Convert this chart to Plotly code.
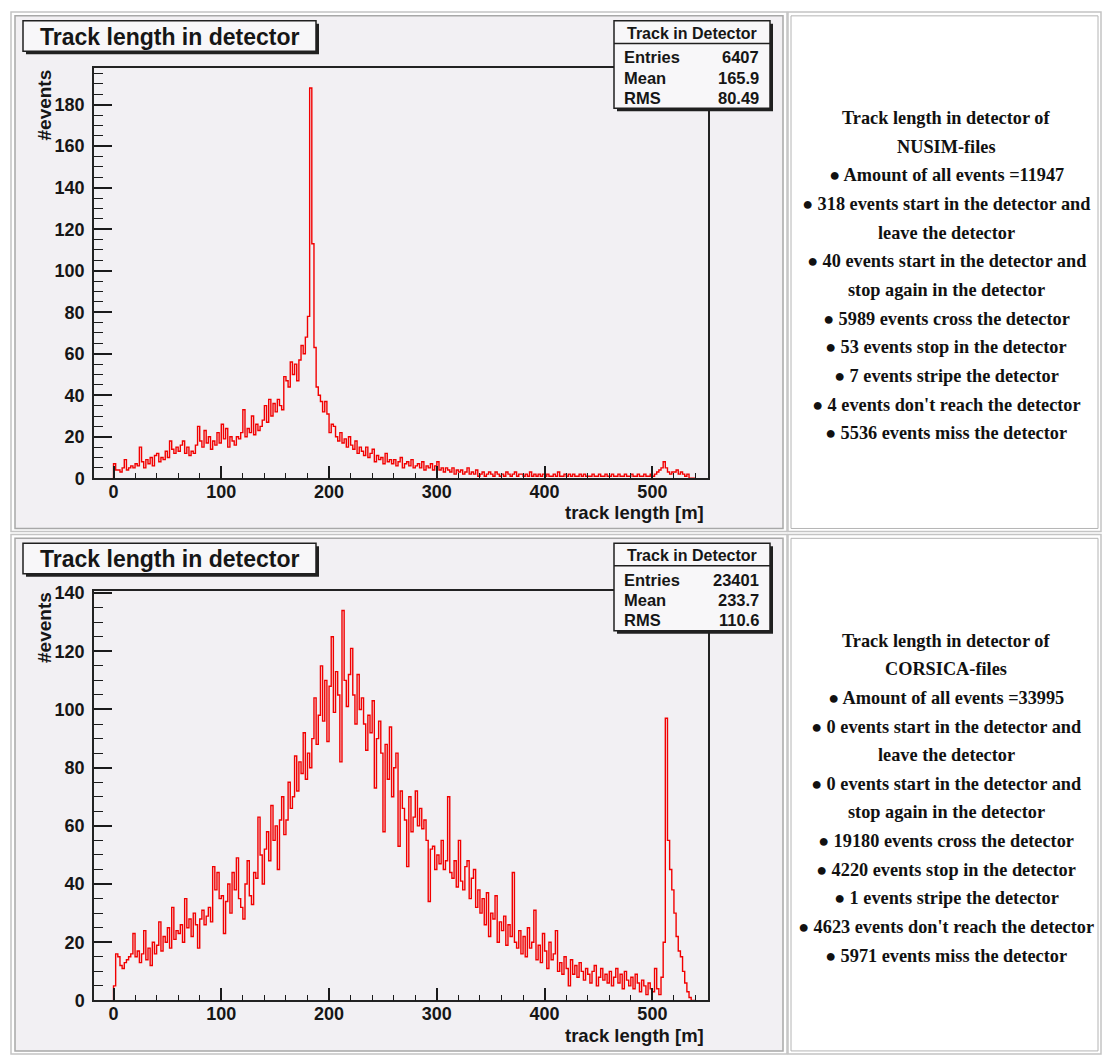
import plotly.graph_objects as go

# ---------------------------------------------------------------- data
BIN_WIDTH = 2  # metres per histogram bin, bins start at 0 m

# NUSIM: track length in detector (counts per bin, 0..540 m)
nusim_counts = [
    7, 4, 4, 3, 5, 9, 4, 5, 6, 5,            # 0-18
    7, 6, 15, 8, 5, 9, 7, 10, 6, 11,         # 20-38
    12, 8, 10, 9, 13, 10, 18, 14, 12, 15,    # 40-58
    13, 16, 18, 12, 15, 11, 13, 12, 16, 25,  # 60-78
    18, 15, 23, 17, 20, 14, 18, 16, 22, 17,  # 80-98
    26, 19, 24, 15, 20, 18, 16, 20, 19, 22,  # 100-118
    33, 20, 24, 22, 30, 21, 26, 23, 25, 28,  # 120-138
    35, 27, 38, 30, 36, 32, 38, 35, 33, 49,  # 140-158
    47, 44, 56, 50, 55, 47, 57, 64, 60, 68,  # 160-178
    78, 188, 113, 63, 44, 40, 37, 32, 37, 31,  # 180-198
    22, 26, 25, 20, 18, 22, 17, 19, 15, 20,  # 200-218
    16, 14, 18, 12, 15, 13, 11, 15, 10, 12,  # 220-238
    14, 8, 11, 9, 10, 7, 12, 8, 9, 7,        # 240-258
    9, 6, 8, 10, 5, 7, 8, 6, 9, 5,           # 260-278
    6, 7, 5, 8, 4, 6, 5, 7, 4, 6,            # 280-298
    8, 4, 5, 3, 5, 4, 3, 5, 2, 4,            # 300-318
    3, 4, 2, 3, 5, 2, 3, 2, 4, 1,            # 320-338
    2, 3, 1, 2, 3, 2, 1, 3, 2, 1,            # 340-358
    2, 1, 3, 2, 1, 2, 3, 1, 2, 2,            # 360-378
    1, 2, 1, 3, 1, 2, 1, 2, 1, 2,            # 380-398
    1, 2, 1, 1, 2, 1, 3, 1, 1, 2,            # 400-418
    1, 2, 1, 2, 1, 1, 2, 1, 2, 1,            # 420-438
    1, 1, 2, 1, 1, 2, 1, 1, 2, 1,            # 440-458
    1, 2, 1, 1, 2, 1, 1, 2, 1, 1,            # 460-478
    2, 1, 1, 2, 1, 1, 2, 1, 1, 2,            # 480-498
    1, 2, 3, 4, 5, 8, 5, 3, 2, 3,            # 500-518
    3, 4, 2, 3, 2, 1, 2, 0, 0, 0,            # 520-538
]

# CORSICA: track length in detector (counts per bin, 0..540 m)
corsica_counts = [
    5, 16, 15, 12, 11, 13, 14, 15, 16, 23,            # 0-18
    15, 17, 13, 16, 24, 14, 18, 12, 20, 16,           # 20-38
    19, 27, 17, 22, 20, 25, 18, 32, 21, 24,           # 40-58
    23, 26, 20, 35, 25, 28, 22, 30, 26, 18,           # 60-78
    28, 31, 26, 29, 32, 27, 46, 38, 44, 35,           # 80-98
    36, 23, 34, 40, 30, 44, 38, 49, 35, 32,           # 100-118
    28, 40, 48, 36, 33, 44, 42, 63, 50, 40,           # 120-138
    52, 58, 48, 67, 55, 60, 45, 62, 70, 57,           # 140-158
    62, 75, 66, 70, 84, 72, 82, 78, 92, 76,           # 160-178
    85, 80, 90, 104, 88, 98, 115, 96, 110, 89,        # 180-198
    108, 125, 99, 113, 105, 82, 134, 110, 101, 112,   # 200-218
    121, 105, 95, 112, 100, 104, 95, 86, 98, 92,      # 220-238
    103, 73, 90, 96, 85, 58, 88, 76, 94, 70,          # 240-258
    80, 85, 53, 72, 66, 62, 46, 70, 58, 63,           # 260-278
    72, 60, 66, 59, 62, 55, 34, 52, 53, 45,           # 280-298
    50, 47, 55, 45, 48, 70, 44, 42, 48, 39,           # 300-318
    55, 41, 38, 46, 48, 35, 42, 45, 32, 38,           # 320-338
    30, 35, 26, 37, 22, 30, 28, 36, 20, 27,           # 340-358
    24, 29, 19, 26, 22, 44, 20, 18, 24, 16,           # 360-378
    22, 15, 25, 18, 20, 31, 14, 19, 13, 23,           # 380-398
    17, 11, 20, 14, 16, 24, 10, 13, 9, 15,            # 400-418
    11, 5, 14, 9, 12, 8, 13, 10, 7, 11,               # 420-438
    9, 6, 10, 12, 5, 8, 11, 7, 9, 6,                  # 440-458
    10, 5, 8, 11, 6, 9, 4, 10, 7, 5,                  # 460-478
    8, 4, 9, 6, 3, 7, 5, 2, 6, 4,                     # 480-498
    3, 11, 4, 2, 8, 20, 97, 55, 45, 38,               # 500-518
    30, 22, 17, 15, 10, 6, 3, 1, 0, 0,                # 520-538
]

hist_title = "Track length in detector"
stats_name = "Track in Detector"
stats_labels = ["Entries", "Mean", "RMS"]
nusim_stats = ["6407", "165.9", "80.49"]
corsica_stats = ["23401", "233.7", "110.6"]

x_title = "track length [m]"
y_title = "#events"
x_ticks = [0, 100, 200, 300, 400, 500]
nusim_y_ticks = [0, 20, 40, 60, 80, 100, 120, 140, 160, 180]
corsica_y_ticks = [0, 20, 40, 60, 80, 100, 120, 140]

nusim_notes = [
    "Track length in detector of",
    "NUSIM-files",
    "● Amount of all events =11947",
    "● 318 events start in the detector and",
    "leave the detector",
    "● 40 events start in the detector and",
    "stop again in the detector",
    "● 5989 events cross the detector",
    "● 53 events stop in the detector",
    "● 7 events stripe the detector",
    "● 4 events don't reach the detector",
    "● 5536 events miss the detector",
]
corsica_notes = [
    "Track length in detector of",
    "CORSICA-files",
    "● Amount of all events =33995",
    "● 0 events start in the detector and",
    "leave the detector",
    "● 0 events start in the detector and",
    "stop again in the detector",
    "● 19180 events cross the detector",
    "● 4220 events stop in the detector",
    "● 1 events stripe the detector",
    "● 4623 events don't reach the detector",
    "● 5971 events miss the detector",
]

# ---------------------------------------------------------------- layout helpers
W, H = 1103, 1057
CANVAS = "#f2f0f3"
PAVE = "#f8f7f9"
INK = "#161616"
SANS = "Liberation Sans, Arial, Helvetica, sans-serif"
SERIF = "Liberation Serif, Times New Roman, serif"


def px(x):
    return x / W


def py(y):
    return 1 - y / H


def step_xy(counts):
    """Outline of a ROOT-style histogram: starts and ends on the baseline."""
    edges = [i * BIN_WIDTH for i in range(len(counts) + 1)]
    xs = [edges[0]] + edges[:-1] + [edges[-1]]
    ys = [0] + list(counts) + [0]
    return xs, ys


fig = go.Figure()

panels = [
    dict(counts=nusim_counts, stats=nusim_stats, notes=nusim_notes,
         yticks=nusim_y_ticks, yr=[0, 197.5], off=0, y0=479.0,
         xa="x", ya="y"),
    dict(counts=corsica_counts, stats=corsica_stats, notes=corsica_notes,
         yticks=corsica_y_ticks, yr=[0, 140.8], off=531, y0=1009.7,
         xa="x2", ya="y2"),
]

shapes = []
annotations = []

for i, p in enumerate(panels):
    off = p["off"]
    xs, ys = step_xy(p["counts"])
    fig.add_trace(go.Scatter(
        x=xs, y=ys, mode="lines", line=dict(color="#f20000", width=1.4, shape="hv"),
        xaxis=p["xa"], yaxis=p["ya"], showlegend=False, hoverinfo="skip",
    ))

    # cell frames: canvas cell on the left, text cell on the right
    shapes += [
        dict(type="rect", xref="paper", yref="paper", layer="below",
             x0=px(11), x1=px(787), y0=py(5 + off), y1=py(533 + off),
             line=dict(color="#c4c4c4", width=1.5), fillcolor="white"),
        dict(type="rect", xref="paper", yref="paper", layer="below",
             x0=px(15), x1=px(783), y0=py(9 + off), y1=py(530 + off),
             line=dict(color="#a8a8a8", width=1.5), fillcolor=CANVAS),
        dict(type="rect", xref="paper", yref="paper", layer="below",
             x0=px(788), x1=px(1101), y0=py(5 + off), y1=py(533 + off),
             line=dict(color="#c4c4c4", width=1.5), fillcolor="white"),
        dict(type="rect", xref="paper", yref="paper", layer="below",
             x0=px(791), x1=px(1098), y0=py(9 + off), y1=py(530 + off),
             line=dict(color="#b4b4b4", width=1), fillcolor="white"),
    ]

    # title pave with shadow
    shapes += [
        dict(type="rect", xref="paper", yref="paper", layer="above",
             x0=px(26), x1=px(319), y0=py(17 + off), y1=py(48 + off),
             line=dict(width=0), fillcolor="#202020"),
        dict(type="rect", xref="paper", yref="paper", layer="above",
             x0=px(23), x1=px(316), y0=py(14 + off), y1=py(45 + off),
             line=dict(color="#202020", width=1.5), fillcolor=PAVE),
    ]
    annotations.append(dict(
        xref="paper", yref="paper", x=px(38), y=py(30 + off), xanchor="left",
        yanchor="middle", text=hist_title, showarrow=False,
        font=dict(family=SANS, size=23, color=INK, weight="bold"),
    ))

    # statistics box with shadow
    shapes += [
        dict(type="rect", xref="paper", yref="paper", layer="above",
             x0=px(617), x1=px(773), y0=py(17 + off), y1=py(106 + off),
             line=dict(width=0), fillcolor="#202020"),
        dict(type="rect", xref="paper", yref="paper", layer="above",
             x0=px(614), x1=px(770), y0=py(14 + off), y1=py(103 + off),
             line=dict(color="#202020", width=1.5), fillcolor=PAVE),
        dict(type="line", xref="paper", yref="paper", layer="above",
             x0=px(614), x1=px(770), y0=py(37 + off), y1=py(37 + off),
             line=dict(color="#202020", width=1.5)),
    ]
    annotations.append(dict(
        xref="paper", yref="paper", x=px(692), y=py(26.5 + off), xanchor="center",
        yanchor="middle", text=stats_name, showarrow=False,
        font=dict(family=SANS, size=16, color=INK, weight="bold"),
    ))
    for j, (lab, val) in enumerate(zip(stats_labels, p["stats"])):
        yy = py(51 + 20.7 * j + off)
        annotations.append(dict(
            xref="paper", yref="paper", x=px(622), y=yy, xanchor="left",
            yanchor="middle", text=lab, showarrow=False,
            font=dict(family=SANS, size=16.5, color=INK, weight="bold"),
        ))
        annotations.append(dict(
            xref="paper", yref="paper", x=px(761), y=yy, xanchor="right",
            yanchor="middle", text=val, showarrow=False,
            font=dict(family=SANS, size=16.5, color=INK, weight="bold"),
        ))

    # axis titles
    annotations.append(dict(
        xref="paper", yref="paper", x=px(706), y=py(514 + off), xanchor="right",
        yanchor="middle", text=x_title, showarrow=False,
        font=dict(family=SANS, size=18.5, color=INK, weight="bold"),
    ))
    annotations.append(dict(
        xref="paper", yref="paper", x=px(45), y=py(62 + off), xanchor="center",
        yanchor="top", text=y_title, showarrow=False, textangle=-90,
        font=dict(family=SANS, size=19, color=INK, weight="bold"),
    ))

    # description text in the right cell
    for j, line in enumerate(p["notes"]):
        annotations.append(dict(
            xref="paper", yref="paper", x=px(946), y=py(113 + 29.1 * j + off),
            xanchor="center", yanchor="middle", text=line, showarrow=False,
            font=dict(family=SERIF, size=18.3, color="#111111", weight="bold"),
        ))

    # axes
    x_dom = [px(94), px(708)]
    y_dom = [py(p["y0"]), py(62.3 + off)]
    axis_common = dict(
        showgrid=False, zeroline=False, showline=True, linecolor="#222222",
        linewidth=1.5, mirror=True, ticks="inside", tickcolor="#1a1a1a",
        tickfont=dict(family=SANS, size=18, color=INK, weight="bold"),
    )
    xkey = "xaxis" if i == 0 else "xaxis2"
    ykey = "yaxis" if i == 0 else "yaxis2"
    fig.update_layout({
        xkey: dict(
            domain=x_dom, range=[-18.1, 551.6], anchor=p["ya"],
            tickvals=x_ticks, ticklen=12.5, tickwidth=1.5,
            ticklabelstandoff=-4,
            minor=dict(dtick=20, tick0=0, ticklen=6, tickwidth=1.2,
                       ticks="inside", tickcolor="#1a1a1a", showgrid=False),
            **axis_common,
        ),
        ykey: dict(
            domain=y_dom, range=p["yr"], anchor=p["xa"],
            tickvals=p["yticks"], ticklen=18, tickwidth=1.5,
            ticklabelstandoff=4,
            minor=dict(dtick=5, tick0=0, ticklen=9, tickwidth=1.2,
                       ticks="inside", tickcolor="#1a1a1a", showgrid=False),
            **axis_common,
        ),
    })

fig.update_layout(
    width=W, height=H, margin=dict(l=0, r=0, t=0, b=0),
    paper_bgcolor="white", plot_bgcolor=CANVAS,
    shapes=shapes, annotations=annotations, showlegend=False,
)

fig.write_html("out.html")
